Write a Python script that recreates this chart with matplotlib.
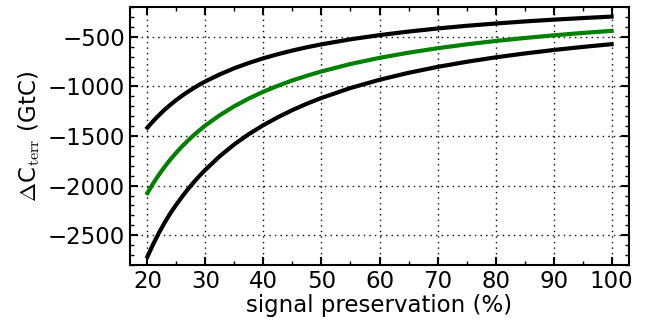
import numpy as np
import matplotlib.pyplot as plt
from matplotlib.ticker import MultipleLocator

plt.rcParams['mathtext.fontset'] = 'cm'

# signal preservation (%)
preservation = [20, 21, 22, 23, 24, 25, 26, 27, 28, 29, 30, 32.5, 35, 37.5, 40,
                42.5, 45, 47.5, 50, 55, 60, 65, 70, 75, 80, 85, 90, 95, 100]
# Delta C_terr (GtC): upper bound, central estimate, lower bound
upper = [-1416, -1349, -1289, -1233, -1183, -1136, -1093, -1053, -1016, -981,
         -949, -878, -816, -763, -716, -675, -638, -605, -576,
         -525, -483, -447, -416, -389, -366, -345, -327, -311, -296]
central = [-2075, -1977, -1889, -1808, -1734, -1666, -1603, -1545, -1491, -1441,
           -1393, -1289, -1199, -1121, -1053, -993, -939, -892, -849,
           -774, -712, -660, -615, -576, -542, -512, -485, -461, -440]
lower = [-2716, -2590, -2475, -2370, -2275, -2190, -2110, -2035, -1965, -1900,
         -1840, -1702, -1583, -1480, -1390, -1310, -1238, -1174, -1116,
         -1016, -933, -863, -803, -752, -707, -668, -633, -602, -574]

fig = plt.figure(figsize=(6.48, 3.21), dpi=100)
ax = fig.add_axes([0.2006, 0.1745, 0.7701, 0.8035])

ax.plot(preservation, upper, color='black', lw=3)
ax.plot(preservation, central, color='green', lw=3)
ax.plot(preservation, lower, color='black', lw=3)

ax.set_xlim(17, 103)
ax.set_ylim(-2800, -200)
ax.xaxis.set_major_locator(MultipleLocator(10))
ax.xaxis.set_minor_locator(MultipleLocator(5))
ax.yaxis.set_major_locator(MultipleLocator(500))
ax.yaxis.set_minor_locator(MultipleLocator(100))
ax.tick_params(which='both', direction='in', top=True, right=True, labelsize=16.5)
ax.tick_params(which='major', length=6, width=1.5)
ax.tick_params(which='minor', length=3, width=1)
for s in ax.spines.values():
    s.set_linewidth(1.5)
ax.grid(True, which='major', linestyle=(0, (1, 3)), color='black', lw=1)

ax.set_xlabel('signal preservation (%)', fontsize=16.5, labelpad=1)
ax.set_ylabel(r'$\Delta$C$_{\rm terr}$ (GtC)', fontsize=16.5)

fig.savefig('out.png', dpi=100)
